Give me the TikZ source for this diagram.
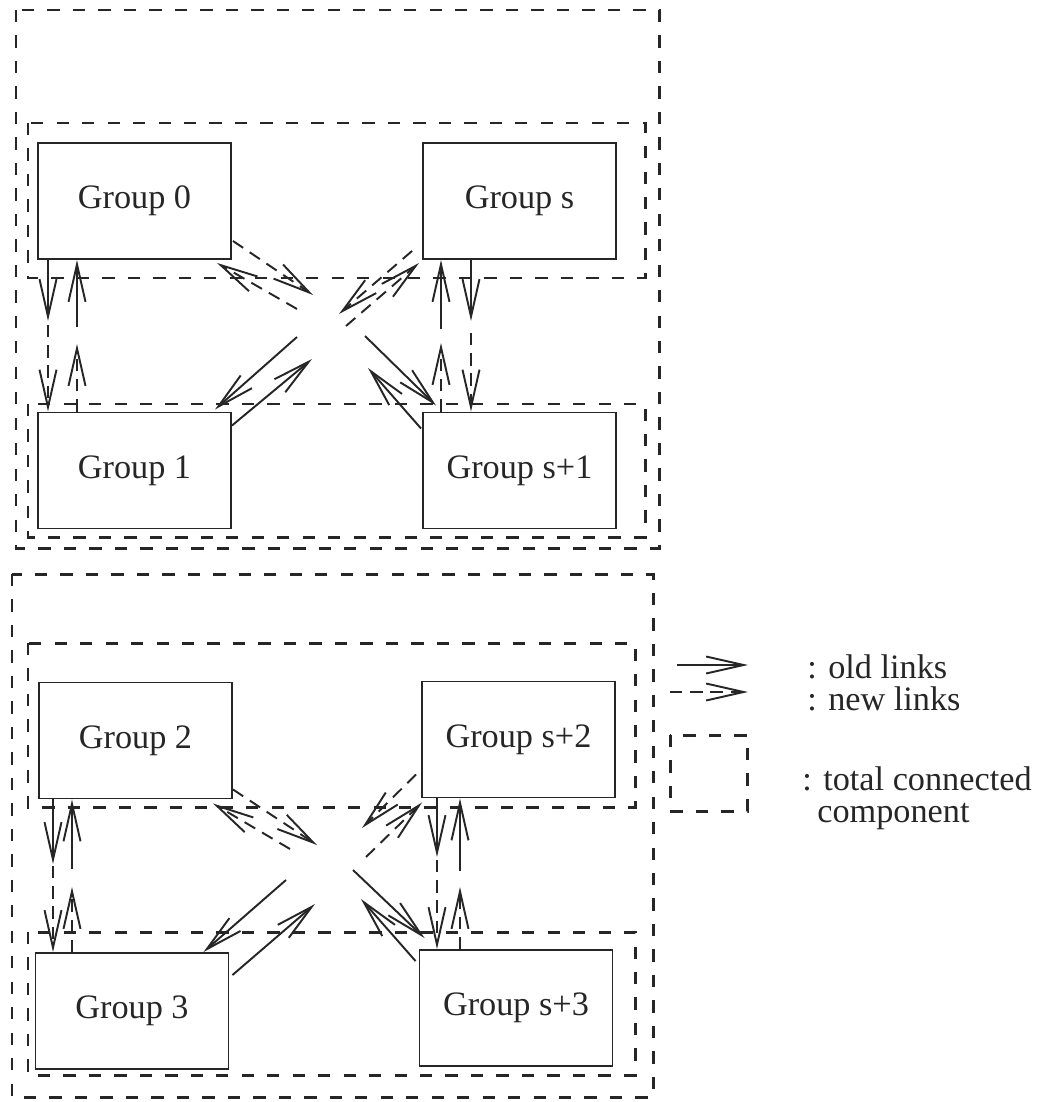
\documentclass[tikz,border=0pt]{standalone}
\usepackage{fontspec}
\setmainfont{Liberation Serif}
\usepackage{tikz}
\usetikzlibrary{positioning, arrows.meta, calc}
\definecolor{ink}{HTML}{262626}
\tikzset{
  grp/.style={draw=ink, line width=1.1pt, fill=white, text=ink,
    minimum width=3.86cm, minimum height=2.32cm, inner sep=0pt,
    font=\fontsize{19.5}{23}\selectfont},
  oldl/.style={-{Straight Barb[length=7.5mm, width=3.4mm]}, line width=1.1pt, color=ink},
  newl/.style={oldl, dash pattern=on 7pt off 4.5pt},
  comp/.style={draw=ink, line width=1.7pt, dash pattern=on 7pt off 7.5pt},
  lbl/.style={font=\fontsize{19.5}{23}\selectfont, text=ink, inner sep=0pt, anchor=base west},
}
\begin{document}
\begin{tikzpicture}[x=0.02cm, y=-0.02cm]
  \useasboundingbox (0,0) rectangle (1037,1102);
  % component frames
  \draw[comp] (16,10) rectangle (659,548);
  \draw[comp] (28,123) rectangle (645,278);
  \draw[comp] (28,404) rectangle (645,537);
  \draw[comp] (12,574) rectangle (653,1097);
  \draw[comp] (28,643) rectangle (635,807);
  \draw[comp] (28,932) rectangle (635,1075);
  % groups
  \node[grp] (g0) at (134.5,201) {Group 0};
  \node[grp] (gs) at (519.5,201) {Group s};
  \node[grp] (g1) at (134.5,470.5) {Group 1};
  \node[grp] (gs1) at (519.5,470.5) {Group s+1};
  \node[grp] (g2) at (135.5,740.5) {Group 2};
  \node[grp] (gs2) at (518.5,739.5) {Group s+2};
  \node[grp] (g3) at (132,1011) {Group 3};
  \node[grp] (gs3) at (516,1008) {Group s+3};
  % upper block, vertical links
  \coordinate (v0a) at (48,321);  \coordinate (v0b) at (48,325);
  \coordinate (v1a) at (77,327);  \coordinate (v1b) at (77,344);
  \coordinate (v2a) at (441,329); \coordinate (v2b) at (441,343);
  \coordinate (v3a) at (471,321); \coordinate (v3b) at (471,333);
  \draw[oldl] (v0a|-g0.south) -- (v0a); \draw[newl] (v0b) -- (v0b|-g1.north);
  \draw[oldl] (v1a) -- (v1a|-g0.south); \draw[newl] (v1b|-g1.north) -- (v1b);
  \draw[oldl] (v2a) -- (v2a|-gs.south); \draw[newl] (v2b|-gs1.north) -- (v2b);
  \draw[oldl] (v3a|-gs.south) -- (v3a); \draw[newl] (v3b) -- (v3b|-gs1.north);
  % upper block, cross links
  \coordinate (d1) at (313,295); \coordinate (d2) at (297,309);
  \coordinate (d3) at (339,314); \coordinate (d4) at (346,326);
  \coordinate (d5) at (297,337); \coordinate (d6) at (312,359);
  \coordinate (d7) at (365,336); \coordinate (d8) at (368,368);
  \draw[newl] ($(g0.south east)+(1,-19)$) -- (d1);
  \draw[newl] (d2) -- ($(g0.south east)+(-15,3)$);
  \draw[newl] ($(gs.south west)+(-10,-9)$) -- (d3);
  \draw[newl] (d4) -- ($(gs.south west)+(-3,3)$);
  \draw[oldl] (d5) -- ($(g1.north east)+(-17,-2)$);
  \draw[oldl] ($(g1.north east)+(0,14)$) -- (d6);
  \draw[oldl] (d7) -- ($(gs1.north west)+(14,-6)$);
  \draw[oldl] ($(gs1.north west)+(-1,17)$) -- (d8);
  % lower block, vertical links
  \coordinate (w0a) at (53,864);  \coordinate (w0b) at (53,866);
  \coordinate (w1a) at (72,869);  \coordinate (w1b) at (72,887);
  \coordinate (w2a) at (437,857); \coordinate (w2b) at (437,860);
  \coordinate (w3a) at (460,871); \coordinate (w3b) at (460,887);
  \draw[oldl] (w0a|-g2.south) -- (w0a); \draw[newl] (w0b) -- (w0b|-g3.north);
  \draw[oldl] (w1a) -- (w1a|-g2.south); \draw[newl] (w1b|-g3.north) -- (w1b);
  \draw[oldl] (w2a|-gs2.south) -- (w2a); \draw[newl] (w2b) -- (w2b|-gs3.north);
  \draw[oldl] (w3a) -- (w3a|-gs2.south); \draw[newl] (w3b|-gs3.north) -- (w3b);
  % lower block, cross links
  \coordinate (e1) at (317,845); \coordinate (e2) at (290,849);
  \coordinate (e3) at (362,828); \coordinate (e4) at (366,857);
  \coordinate (e5) at (286,880); \coordinate (e6) at (315,904);
  \coordinate (e7) at (353,870); \coordinate (e8) at (361,899);
  \draw[newl] ($(g2.south east)+(0,-10)$) -- (e1);
  \draw[newl] (e2) -- ($(g2.south east)+(-20,4)$);
  \draw[newl] ($(gs2.south west)+(-5,-24)$) -- (e3);
  \draw[newl] (e4) -- ($(gs2.south west)+(1,4)$);
  \draw[oldl] (e5) -- ($(g3.north east)+(-26,0)$);
  \draw[oldl] ($(g3.north east)+(3,23)$) -- (e6);
  \draw[oldl] (e7) -- ($(gs3.north west)+(6,-11)$);
  \draw[oldl] ($(gs3.north west)+(-3,12)$) -- (e8);
  % legend
  \coordinate (lo1) at (677,665); \coordinate (lo2) at (748,665);
  \coordinate (ln1) at (670,692); \coordinate (ln2) at (748,692);
  \draw[oldl] (lo1) -- (lo2);
  \draw[newl] (ln1) -- (ln2);
  \draw[comp] (670,735) rectangle (747,811);
  \node[lbl] (tOld) at (807,678) {: old links};
  \node[lbl] (tNew) at (807,710) {: new links};
  \node[lbl] (tComp) at (802,790) {: total connected};
  \node[lbl] (tComp2) at (817,822) {component};
\end{tikzpicture}
\end{document}
